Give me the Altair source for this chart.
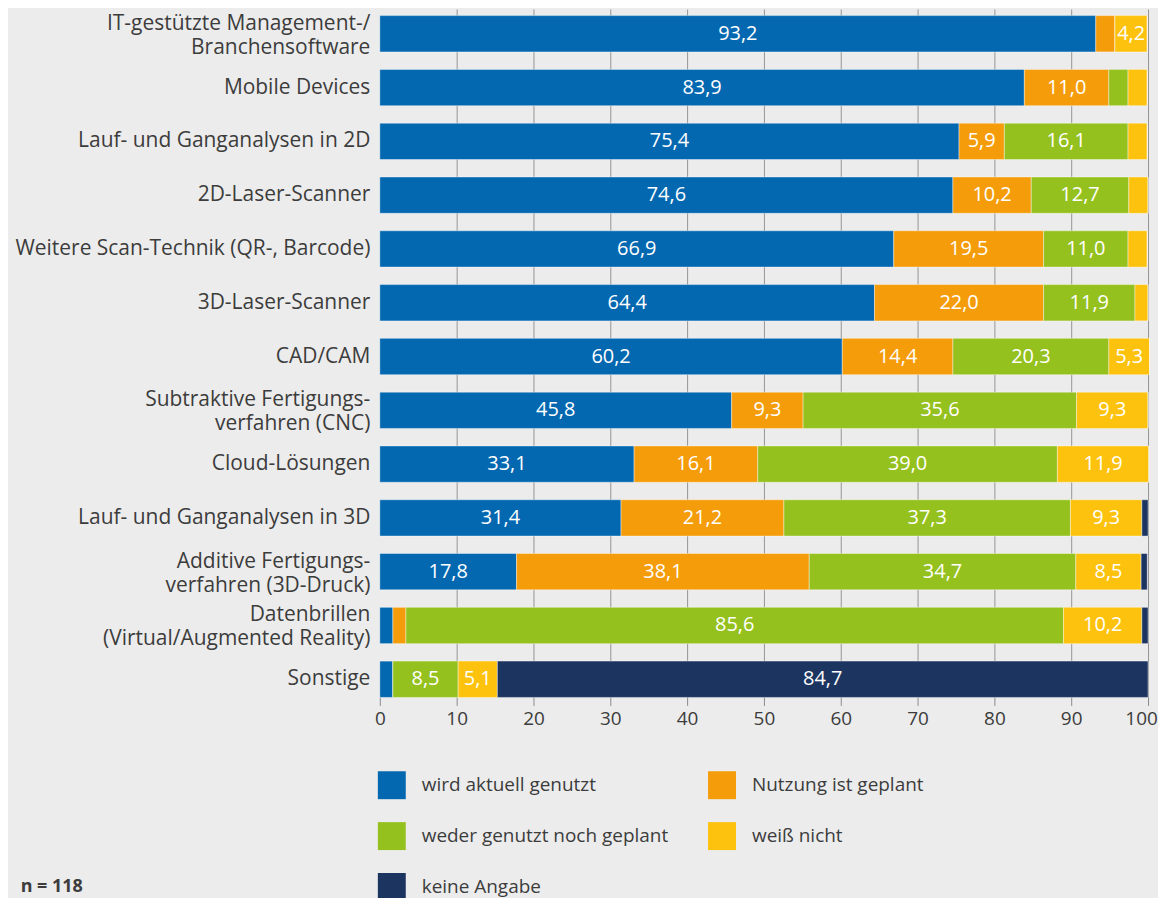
import altair as alt
import pandas as pd

categories = [
    "IT-gestützte Management-/|Branchensoftware",
    "Mobile Devices",
    "Lauf- und Ganganalysen in 2D",
    "2D-Laser-Scanner",
    "Weitere Scan-Technik (QR-, Barcode)",
    "3D-Laser-Scanner",
    "CAD/CAM",
    "Subtraktive Fertigungs-|verfahren (CNC)",
    "Cloud-Lösungen",
    "Lauf- und Ganganalysen in 3D",
    "Additive Fertigungs-|verfahren (3D-Druck)",
    "Datenbrillen|(Virtual/Augmented Reality)",
    "Sonstige",
]
series = ["wird aktuell genutzt", "Nutzung ist geplant", "weder genutzt noch geplant",
          "weiß nicht", "keine Angabe"]
colors = ["#0468b1", "#f59c0a", "#95c11f", "#fdc20d", "#1c3560"]

genutzt = [93.2, 83.9, 75.4, 74.6, 66.9, 64.4, 60.2, 45.8, 33.1, 31.4, 17.8, 1.7, 1.7]
geplant = [2.5, 11.0, 5.9, 10.2, 19.5, 22.0, 14.4, 9.3, 16.1, 21.2, 38.1, 1.7, 0.0]
weder = [0.0, 2.5, 16.1, 12.7, 11.0, 11.9, 20.3, 35.6, 39.0, 37.3, 34.7, 85.6, 8.5]
weiss = [4.2, 2.5, 2.5, 2.5, 2.5, 1.7, 5.3, 9.3, 11.9, 9.3, 8.5, 10.2, 5.1]
keine = [0.0, 0.0, 0.0, 0.0, 0.0, 0.0, 0.0, 0.0, 0.0, 0.8, 0.8, 0.8, 84.7]

x_ticks = [0, 10, 20, 30, 40, 50, 60, 70, 80, 90, 100]
note = "n = 118"

rows = []
for si, (s, vals) in enumerate(zip(series, [genutzt, geplant, weder, weiss, keine])):
    for c, v in zip(categories, vals):
        rows.append({"cat": c, "series": s, "idx": si, "value": v})
df = pd.DataFrame(rows)

FONT = "Open Sans"

base = alt.Chart(df).transform_stack(
    stack="value", groupby=["cat"], sort=[alt.SortField("idx", order="ascending")],
    as_=["x0", "x1"]
).transform_calculate(
    mid="(datum.x0 + datum.x1) / 2",
    lbl="replace(format(datum.value, '.1f'), '.', ',')"
)

yenc = alt.Y(
    "cat:N", sort=categories, title=None,
    scale=alt.Scale(paddingInner=0.325, paddingOuter=0.061, align=1),
    axis=alt.Axis(
        labelExpr="split(datum.label, '|')", labelFont=FONT, labelFontSize=21,
        labelColor="#3c3c3c", labelPadding=10, ticks=False, domain=False,
        labelLimit=0, labelLineHeight=24, grid=False,
        labelOffset={"condition": {"test": "indexof(datum.label, '|') >= 0", "value": -10},
                     "value": 0},
    ),
)

bars = base.mark_bar(stroke="#ffffff", strokeWidth=0.8, strokeOpacity=0.5).encode(
    x=alt.X(
        "x0:Q", title=None,
        scale=alt.Scale(domain=[0, 100], nice=False, zero=True),
        axis=alt.Axis(
            values=x_ticks, labelFont=FONT, labelFontSize=19, labelColor="#3c3c3c",
            tickColor="#8c8c8c", tickSize=8, labelPadding=4, domain=False,
            gridColor="#959595", gridWidth=1, labelBound=False, labelOverlap=False,
            labelFlush=False,
            labelOffset={"condition": {"test": "datum.value === 100", "value": -7},
                         "value": 0},
            gridOpacity={"condition": {"test": "datum.value === 0", "value": 0}, "value": 1},
        ),
    ),
    x2="x1:Q",
    y=yenc,
    color=alt.Color(
        "series:N", scale=alt.Scale(domain=series, range=colors), title=None,
        legend=alt.Legend(
            orient="none", legendX=-2, legendY=764, columns=2, direction="horizontal",
            symbolType="square", symbolSize=784, symbolStrokeWidth=0, symbolOpacity=1,
            labelFont=FONT, labelFontSize=19, labelColor="#3c3c3c", labelOffset=16,
            rowPadding=23, columnPadding=39, padding=0, labelLimit=0,
        ),
    ),
    order=alt.Order("idx:Q", sort="ascending"),
)

texts = base.transform_filter("datum.value >= 4").mark_text(
    color="white", font=FONT, fontSize=20, baseline="middle", align="center"
).encode(
    x=alt.X("mid:Q"),
    y=alt.Y("cat:N", sort=categories),
    text="lbl:N",
)

note_layer = alt.Chart(pd.DataFrame({"t": [note]})).mark_text(
    font=FONT, fontSize=18, fontWeight="bold", color="#3c3c3c", align="left",
    baseline="alphabetic"
).encode(x=alt.value(-360), y=alt.value(885), text="t:N")

chart = alt.layer(bars, texts, note_layer).properties(
    width=770, height=690,
    autosize="none",
    padding={"left": 372.7, "top": 0, "right": 10, "bottom": 200},
    background="#ececec",
).configure_view(stroke=None)

chart.save("out.html", embed_options={"renderer": "svg", "actions": False})
